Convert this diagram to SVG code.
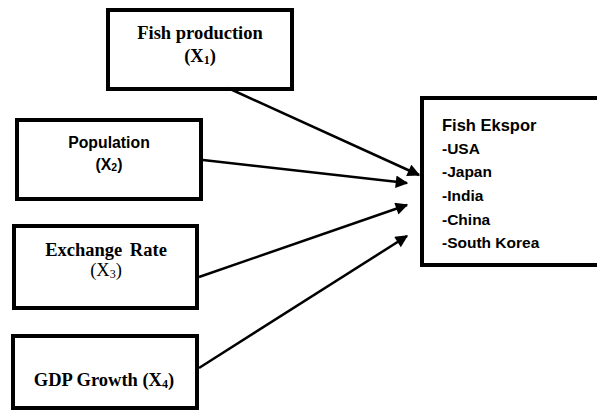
<svg xmlns="http://www.w3.org/2000/svg" width="597" height="410" viewBox="0 0 597 410">
<style>
.box{fill:#fff;stroke:#000;stroke-width:4}
.serifb{font-family:"Liberation Serif","Times New Roman",serif;font-weight:bold;font-size:18.5px;fill:#000}
.serif{font-family:"Liberation Serif","Times New Roman",serif;font-size:18.5px;fill:#000}
.sans{font-family:"Liberation Sans",Arial,sans-serif;font-weight:bold;fill:#000}
.conn{stroke:#000;stroke-width:2.5;fill:none;marker-end:url(#ah)}
</style>
<defs>
<marker id="ah" viewBox="0 0 10 10" refX="9" refY="5" markerWidth="5.5" markerHeight="5" orient="auto" markerUnits="strokeWidth">
<path d="M0,0 L10,5 L0,10 Z" fill="#000"/>
</marker>
</defs>
<rect width="597" height="410" fill="#fff"/>
<g id="n1">
<rect class="box" x="108" y="10" width="184" height="79"/>
<text class="serifb" x="200" y="39" text-anchor="middle">Fish production</text>
<text class="serifb" x="200" y="62" text-anchor="middle">(X<tspan font-size="12" dy="2">1</tspan><tspan dy="-2">)</tspan></text>
</g>
<g id="n2">
<rect class="box" x="17" y="120" width="184" height="79"/>
<text class="sans" x="109" y="148" font-size="15.8" text-anchor="middle">Population</text>
<text class="sans" x="109" y="170" font-size="15.8" text-anchor="middle">(X<tspan font-size="10.5" dy="1">2</tspan><tspan dy="-1">)</tspan></text>
</g>
<g id="n3">
<rect class="box" x="14" y="226" width="183" height="82"/>
<text class="serifb" x="106" y="256" text-anchor="middle" word-spacing="3">Exchange Rate</text>
<text class="serif" x="106" y="276" text-anchor="middle">(X<tspan font-size="12" dy="2">3</tspan><tspan dy="-2">)</tspan></text>
</g>
<g id="n4">
<rect class="box" x="13" y="336" width="184" height="72"/>
<text class="serifb" x="104" y="386" text-anchor="middle">GDP Growth (X<tspan font-size="12" dy="2">4</tspan><tspan dy="-2">)</tspan></text>
</g>
<g id="n5">
<rect class="box" x="422" y="98" width="180" height="167"/>
<text class="sans" x="442" y="131" font-size="16.5">Fish Ekspor</text>
<text class="sans" x="442" y="154" font-size="15.5">-USA</text>
<text class="sans" x="442" y="177" font-size="15.5">-Japan</text>
<text class="sans" x="442" y="201" font-size="15.5">-India</text>
<text class="sans" x="442" y="225" font-size="15.5">-China</text>
<text class="sans" x="442" y="248" font-size="15.5">-South Korea</text>
</g>
<g id="connectors">
<line class="conn" x1="228" y1="88" x2="419" y2="175"/>
<line class="conn" x1="203" y1="160" x2="407" y2="183"/>
<line class="conn" x1="199" y1="277" x2="407" y2="205"/>
<line class="conn" x1="199" y1="368" x2="407" y2="236"/>
</g>
</svg>
